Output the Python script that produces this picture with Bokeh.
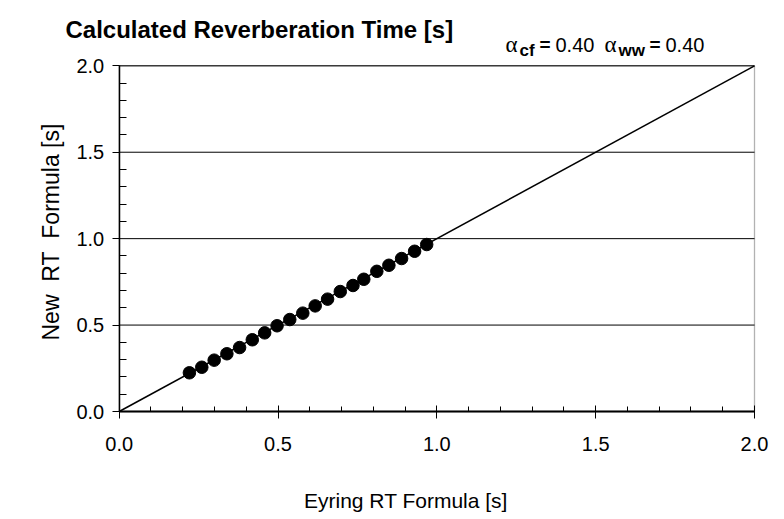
from bokeh.plotting import figure
from bokeh.models import FixedTicker, Label, Range1d, NumeralTickFormatter, BoxAnnotation
from bokeh.embed import file_html
from bokeh.resources import INLINE

# ---- data ----
eyring_rt = [0.221, 0.260, 0.299, 0.339, 0.379, 0.419, 0.458, 0.497, 0.537, 0.578,
             0.617, 0.656, 0.696, 0.736, 0.770, 0.811, 0.849, 0.889, 0.930, 0.968]
new_rt = [0.224, 0.256, 0.297, 0.334, 0.370, 0.415, 0.455, 0.496, 0.532, 0.569,
          0.611, 0.650, 0.694, 0.729, 0.765, 0.811, 0.846, 0.885, 0.927, 0.966]
ref_x = [0.0, 2.0]
ref_y = [0.0, 2.0]
axis_min, axis_max = 0.0, 2.0
tick_values = [0.0, 0.5, 1.0, 1.5, 2.0]
tick_labels = ["0.0", "0.5", "1.0", "1.5", "2.0"]
grid_values = [0.5, 1.0, 1.5, 2.0]
minor_values = [0.1, 0.2, 0.3, 0.4, 0.6, 0.7, 0.8, 0.9,
                1.1, 1.2, 1.3, 1.4, 1.6, 1.7, 1.8, 1.9]

title_text = "Calculated Reverberation Time [s]"
x_title = "Eyring RT Formula [s]"
y_title = "New\u00a0 RT\u00a0 Formula [s]"
alpha_cf = "0.40"
alpha_ww = "0.40"

# ---- layout (pixels) ----
W, H = 784, 519
PL, PR, PT, PB = 118.7, 754.0, 65.3, 411.0     # plot-area edges on the canvas
FONT = "Liberation Sans"

sx = (PR - PL) / (axis_max - axis_min)
sy = (PB - PT) / (axis_max - axis_min)
x_range = Range1d(axis_min - PL / sx, axis_max + (W - PR) / sx)
y_range = Range1d(axis_min - (H - PB) / sy, axis_max + PT / sy)

p = figure(width=W, height=H, output_backend="svg", toolbar_location=None,
           x_range=x_range, y_range=y_range, min_border=0)
p.title.visible = False
p.background_fill_color = "white"
p.border_fill_color = "white"
p.outline_line_color = None

p.xgrid.visible = False
p.ygrid.visible = False

# horizontal grid lines across the plot area
p.segment(x0=[axis_min] * len(grid_values), x1=[axis_max] * len(grid_values),
          y0=grid_values, y1=grid_values, line_color="black", line_width=1)

# plot-area border
p.add_layout(BoxAnnotation(left=axis_min, right=axis_max, bottom=axis_min, top=axis_max,
                           fill_alpha=0, fill_color=None, line_color="black",
                           line_width=1.3, level="underlay"))

overrides = {v: s for v, s in zip(tick_values, tick_labels)}
for ax in (p.xaxis[0], p.yaxis[0]):
    ax.fixed_location = axis_min
    ax.bounds = (axis_min, axis_max)
    ax.ticker = FixedTicker(ticks=tick_values, minor_ticks=minor_values)
    ax.formatter = NumeralTickFormatter(format="0.0")
    ax.major_label_overrides = overrides
    ax.axis_line_color = "black"
    ax.major_tick_line_color = "black"
    ax.minor_tick_line_color = "black"
    ax.major_tick_line_width = 1
    ax.minor_tick_line_width = 1
    ax.major_label_text_font = FONT
    ax.major_label_text_font_size = "20px"
    ax.major_label_text_color = "black"

xa = p.xaxis[0]
xa.axis_line_width = 2
xa.major_tick_in = 6
xa.major_tick_out = 7
xa.minor_tick_in = 5
xa.minor_tick_out = 0
xa.major_label_standoff = 18

ya = p.yaxis[0]
ya.axis_line_width = 1.5
ya.major_tick_in = 0
ya.major_tick_out = 7
ya.minor_tick_in = 7
ya.minor_tick_out = 0
ya.major_label_standoff = 8

# reference diagonal and points
p.line(ref_x, ref_y, line_color="black", line_width=1.5)
p.scatter(eyring_rt, new_rt, size=12.5, marker="circle",
          fill_color="black", line_color="black")

# texts, placed by canvas pixel (x from left, baseline y from top)
def lab(text, px, py, size, bold=False, font=FONT, angle=0.0):
    p.add_layout(Label(x=px, y=H - py, x_units="screen", y_units="screen", text=text,
                       text_font=font, text_font_size=size,
                       text_font_style="bold" if bold else "normal",
                       text_color="black", text_baseline="alphabetic",
                       text_align="left", angle=angle))

lab(title_text, 65, 29, "24px", bold=True)

lab("\u03b1", 505, 44, "23px", font="Liberation Serif")
lab("cf", 519, 50, "17px", bold=True)
lab("=", 539, 44, "19px", bold=True)
lab(alpha_cf, 555, 44, "20px")
lab("\u03b1", 604, 44, "23px", font="Liberation Serif")
lab("ww", 618, 50, "17px", bold=True)
lab("=", 649, 44, "19px", bold=True)
lab(alpha_ww, 665, 44, "20px")

lab(x_title, 303.5, 500, "21px")
lab(y_title, 50, 340, "23px", angle=1.5707963)

open("out.html", "w").write(file_html(p, INLINE))
